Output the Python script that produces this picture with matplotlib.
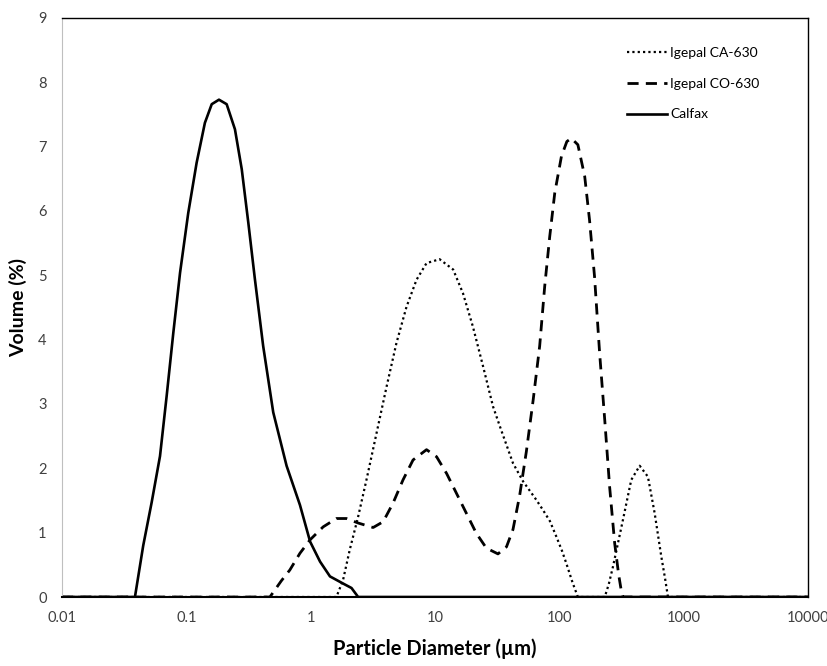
import matplotlib.pyplot as plt
import numpy as np

plt.rcParams['font.family'] = ['Lato', 'DejaVu Sans']

# Calfax (solid)
calfax_d = [0.01, 0.0386, 0.045, 0.0526, 0.0614, 0.0695, 0.0786, 0.089, 0.1036, 0.121,
            0.141, 0.160, 0.183, 0.211, 0.246, 0.279, 0.315, 0.356, 0.415, 0.5,
            0.64, 0.82, 0.99, 1.19, 1.43, 1.82, 2.13, 2.41, 10000]
calfax_v = [0, 0, 0.80, 1.47, 2.19, 3.13, 4.11, 5.04, 5.97, 6.75,
            7.37, 7.66, 7.73, 7.66, 7.27, 6.65, 5.82, 4.94, 3.90, 2.87,
            2.04, 1.43, 0.86, 0.55, 0.32, 0.21, 0.14, 0, 0]

# Igepal CA-630 (dotted)
ca_d = [0.01, 1.61, 1.82, 2.06, 2.41, 2.81, 3.39, 4.08, 4.9, 5.9,
        7.1, 8.55, 10.9, 14.0, 16.8, 20.2, 24.4, 29.3, 34, 42.4,
        51, 65.3, 74, 84, 94.6, 105, 114, 128, 141, 232,
        250, 270, 325, 379, 443, 516, 585, 661, 710, 748,
        10000]
ca_v = [0, 0, 0.26, 0.73, 1.25, 1.82, 2.55, 3.27, 3.95, 4.51,
        4.93, 5.19, 5.25, 5.09, 4.72, 4.20, 3.58, 2.96, 2.60, 2.08,
        1.80, 1.51, 1.35, 1.18, 0.94, 0.72, 0.52, 0.22, 0, 0,
        0.20, 0.47, 1.20, 1.82, 2.04, 1.87, 1.30, 0.63, 0.28, 0,
        0]

# Igepal CO-630 (dashed)
co_d = [0.01, 0.47, 0.52, 0.58, 0.68, 0.82, 0.99, 1.26, 1.61, 1.94,
        2.41, 3.18, 3.83, 4.6, 5.53, 6.66, 8.55, 10.3, 12.4, 14.9,
        17.9, 21.5, 25.9, 32.1, 37.6, 42.4, 48, 54.3, 61.5, 69.5,
        76.3, 83.7, 91.9, 104, 115, 125, 141, 160, 175, 192,
        211, 232, 254, 279, 300, 315, 325, 10000]
co_v = [0, 0, 0.12, 0.25, 0.42, 0.68, 0.89, 1.09, 1.22, 1.22,
        1.15, 1.08, 1.17, 1.46, 1.82, 2.13, 2.29, 2.18, 1.92, 1.61,
        1.30, 0.99, 0.76, 0.67, 0.78, 1.05, 1.58, 2.26, 3.05, 3.90,
        4.83, 5.60, 6.28, 6.85, 7.08, 7.13, 7.03, 6.54, 5.86, 4.98,
        3.79, 2.75, 1.71, 0.83, 0.35, 0.10, 0, 0]

x_ticks = [0.01, 0.1, 1, 10, 100, 1000, 10000]
x_tick_labels = ['0.01', '0.1', '1', '10', '100', '1000', '10000']
y_ticks = list(range(0, 10))

fig = plt.figure(figsize=(8.28, 6.66), dpi=100)
ax = fig.add_axes([0.0749, 0.1036, 0.9009, 0.8694])

ax.plot(ca_d, ca_v, color='black', lw=1.6, linestyle=(0, (1, 1.4)), label='Igepal CA-630')
ax.plot(co_d, co_v, color='black', lw=2.0, linestyle=(0, (4, 2.6)), label='Igepal CO-630')
ax.plot(calfax_d, calfax_v, color='black', lw=1.9, label='Calfax')

ax.set_xscale('log')
ax.set_xlim(0.01, 10000)
ax.set_ylim(0, 9)
ax.set_xticks(x_ticks)
ax.set_xticklabels(x_tick_labels)
ax.set_yticks(y_ticks)
ax.minorticks_off()
ax.tick_params(axis='both', length=0, labelsize=10.5, colors='#404040')
ax.tick_params(axis='x', pad=10)
ax.tick_params(axis='y', pad=11)

for side in ['top', 'right']:
    ax.spines[side].set_color('black')
    ax.spines[side].set_linewidth(1.0)
ax.spines['left'].set_color('#bfbfbf')
ax.spines['left'].set_linewidth(0.8)
ax.spines['bottom'].set_color('black')
ax.spines['bottom'].set_linewidth(1.5)

ax.set_xlabel('Particle Diameter (µm)', fontsize=14.5, fontweight='bold', labelpad=10)
ax.set_ylabel('Volume (%)', fontsize=14, fontweight='bold', labelpad=8)

ax.legend(loc='upper left', bbox_to_anchor=(0.748, 0.962), frameon=False, fontsize=10,
          handlelength=2.9, handletextpad=0.2, labelspacing=1.35, borderpad=0)

fig.savefig('out.png', dpi=100)
